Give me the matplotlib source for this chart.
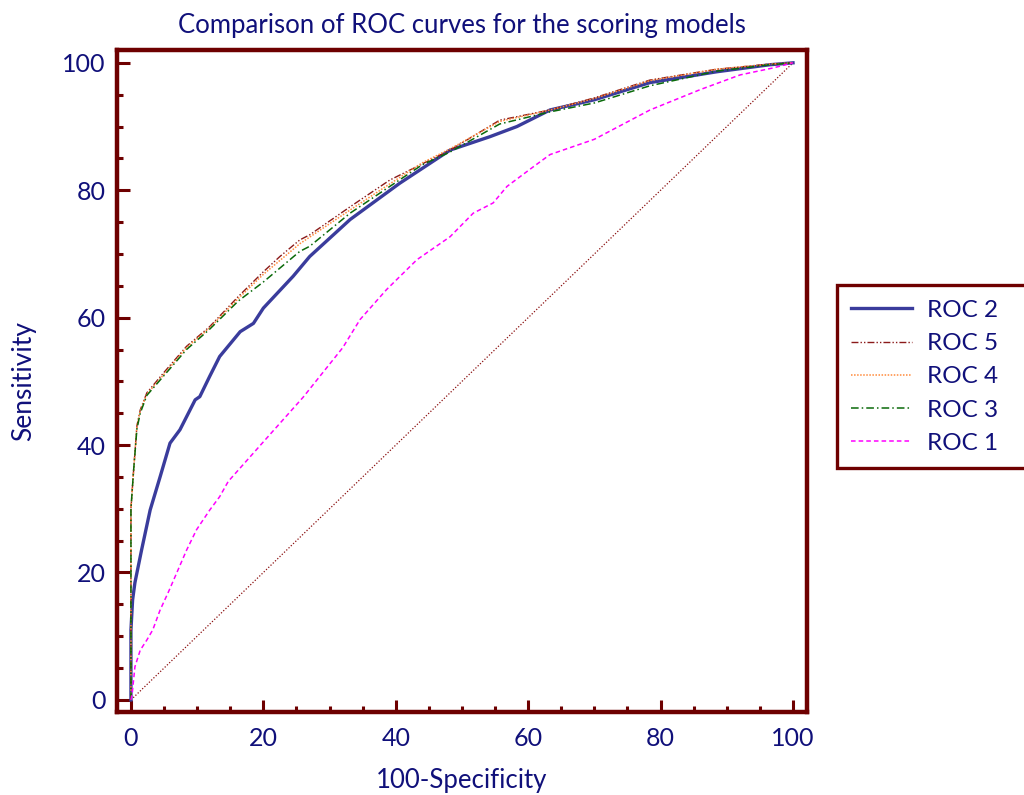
import matplotlib
matplotlib.use("Agg")
import matplotlib.pyplot as plt
from matplotlib.ticker import MultipleLocator

# ---- data ----
roc2_x = [0, 0, 0.25, 0.6, 1.6, 2.9, 4.4, 5.9, 7.4, 9.7, 10.4, 11.9, 13.4, 16.5, 18.5, 20, 24.5,
          27, 33.1, 40.6, 48.2, 54.2, 58.3, 63.3, 70, 78.4, 88.5, 96.5, 100]
roc2_y = [0, 11, 15.7, 18.4, 23.5, 29.8, 35, 40.3, 42.4, 47.1, 47.6, 50.8, 53.9, 57.8, 59.1, 61.5, 66.5,
          69.6, 75.4, 81.1, 86.3, 88.4, 90, 92.6, 94.2, 96.9, 98.6, 99.7, 100]

roc5_x = [0, 0, 0.4, 0.9, 1.4, 2.4, 4.9, 8.4, 11.9, 16.2, 20, 22.5, 25.5, 27, 33.1, 39.1, 48.2, 55.7,
          63.3, 70, 78.4, 88.5, 96.5, 100]
roc5_y = [0, 30, 36, 43, 45.5, 48.2, 51.3, 55.5, 58.6, 63.3, 67.2, 69.6, 72.2, 73, 77.4, 81.6, 86.3, 91,
          92.6, 94.5, 97.3, 99, 99.8, 100]

roc4_x = [0, 0, 0.4, 0.9, 1.4, 2.4, 4.9, 8.4, 11.9, 16.2, 20, 25.5, 33.1, 39.1, 44, 48.2, 55.7,
          63.3, 70, 78.4, 88.5, 96.5, 100]
roc4_y = [0, 30, 36, 43, 45.3, 48, 51, 55.3, 58.4, 63, 66.8, 71.6, 76.9, 81, 84.3, 86.5, 90.8,
          92.6, 94.4, 97.2, 99, 99.8, 100]

roc3_x = [0, 0, 0.4, 0.9, 1.4, 2.4, 4.9, 8.4, 11.9, 16.2, 20, 25.5, 27, 33.1, 39.1, 44, 48.2, 55.7,
          63.3, 70, 78.4, 88.5, 96.5, 100]
roc3_y = [0, 30, 36, 42.5, 45, 47.8, 50.8, 55, 58.2, 62.6, 65.6, 70.4, 71.2, 76.4, 80.6, 84, 86, 90.4,
          92.3, 93.7, 96.4, 98.7, 99.7, 100]

roc1_x = [0, 0.2, 0.6, 1.4, 2.4, 3.3, 4.4, 5.6, 6.9, 8.4, 9.9, 11.9, 13.4, 14.7, 20, 26, 32, 34.6,
          38.6, 43.2, 48.2, 51.7, 54.7, 56.8, 60.8, 63.3, 70, 78.4, 86, 92, 97, 100]
roc1_y = [0, 1.1, 5.2, 7.8, 9.4, 11, 14.1, 16.8, 19.9, 23.5, 26.7, 29.8, 31.9, 34.3, 40.5, 47.5, 55.3, 59.7,
          64.4, 69.1, 72.7, 76.4, 78, 80.6, 83.7, 85.6, 88, 92.6, 95.8, 98.1, 99.2, 100]

diag_x = [0, 100]
diag_y = [0, 100]

tick_vals = [0, 20, 40, 60, 80, 100]

# ---- style ----
plt.rcParams['font.family'] = ['Lato', 'DejaVu Sans']
TXT = '#10107a'
SPINE = '#6e0000'

fig = plt.figure(figsize=(10.24, 7.95), dpi=100)
ax = fig.add_axes([0.1143, 0.1044, 0.788 - 0.1143, 0.937 - 0.1044])

ax.plot(diag_x, diag_y, color='#8b1010', lw=0.9, ls=(0, (1, 1.5)))
l2, = ax.plot(roc2_x, roc2_y, color='#3a3c9c', lw=2.4, label='ROC 2')
l5, = ax.plot(roc5_x, roc5_y, color='#8b1a1a', lw=1.0, ls=(0, (5, 1.5, 1, 1.5, 1, 1.5)), label='ROC 5')
l4, = ax.plot(roc4_x, roc4_y, color='#ff8a3a', lw=1.1, ls=(0, (1, 1)), label='ROC 4')
l3, = ax.plot(roc3_x, roc3_y, color='#0a6a0a', lw=1.1, ls=(0, (5, 2, 1, 2)), label='ROC 3')
l1, = ax.plot(roc1_x, roc1_y, color='#ff00ff', lw=1.1, ls=(0, (3, 2)), label='ROC 1')

ax.set_xlim(-2.1, 102.1)
ax.set_ylim(-1.9, 102.0)
ax.set_xticks(tick_vals)
ax.set_yticks(tick_vals)
ax.xaxis.set_minor_locator(MultipleLocator(5))
ax.yaxis.set_minor_locator(MultipleLocator(5))
ax.tick_params(which='major', direction='in', length=9, width=2.2, color=SPINE,
               labelsize=18, labelcolor=TXT)
ax.tick_params(which='minor', direction='in', length=4.5, width=2.2, color=SPINE)
ax.tick_params(axis='x', which='major', pad=11)
ax.tick_params(axis='y', which='major', pad=8)
for s in ax.spines.values():
    s.set_color(SPINE)
    s.set_linewidth(3.2)

ax.set_title('Comparison of ROC curves for the scoring models', color=TXT, fontsize=18.5, pad=12)
ax.set_xlabel('100-Specificity', color=TXT, fontsize=18.5, labelpad=13)
ax.set_ylabel('Sensitivity', color=TXT, fontsize=19, labelpad=19)

leg = fig.legend(handles=[l2, l5, l4, l3, l1], loc='upper left', mode='expand',
                 bbox_to_anchor=(0.817, 0.41, 0.2, 0.231), fontsize=17.5, frameon=True,
                 fancybox=False, handlelength=2.5, handletextpad=0.6,
                 labelspacing=0.5, borderpad=0.6, borderaxespad=0, framealpha=1)
leg.get_frame().set_edgecolor(SPINE)
leg.get_frame().set_linewidth(2.4)
for t in leg.get_texts():
    t.set_color(TXT)

fig.savefig('out.png', dpi=100)
